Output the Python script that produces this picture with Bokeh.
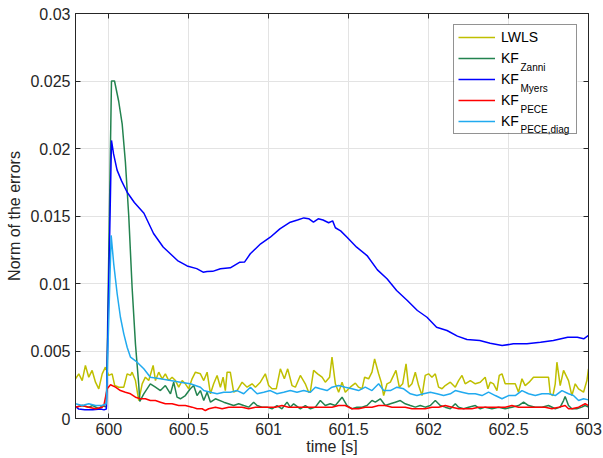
from bokeh.plotting import figure
from bokeh.models import Range1d, LinearAxis, FixedTicker, Legend, LegendItem, Label, BoxAnnotation
from bokeh.embed import file_html
from bokeh.resources import INLINE

FONT = "Liberation Sans"
INK = "#262626"

# ---------------- data ----------------
x_ticks = [600, 600.5, 601, 601.5, 602, 602.5, 603]
x_tick_labels = ["600", "600.5", "601", "601.5", "602", "602.5", "603"]
y_ticks = [0, 0.005, 0.01, 0.015, 0.02, 0.025, 0.03]
y_tick_labels = ["0", "0.005", "0.01", "0.015", "0.02", "0.025", "0.03"]

series_names = ["LWLS", "KF", "KF", "KF", "KF"]
series_subs = ["", "Zanni", "Myers", "PECE", "PECE,diag"]
series_colors = ["#bfbf00", "#23834f", "#0000ff", "#ff0000", "#21aaef"]

t_lwls = [599.792, 599.8125, 599.834, 599.854, 599.875, 599.896, 599.917, 599.9375, 599.959, 599.979,
          600.0, 600.021, 600.0375, 600.0625, 600.094, 600.115, 600.136, 600.146, 600.167, 600.1875,
          600.209, 600.229, 600.25, 600.2775, 600.292, 600.3125, 600.334, 600.354, 600.375, 600.396,
          600.417, 600.4375, 600.459, 600.479, 600.5, 600.521, 600.542, 600.573, 600.594, 600.615,
          600.636, 600.656, 600.6775, 600.698, 600.715, 600.729, 600.74, 600.76, 600.781, 600.8025,
          600.834, 600.865, 600.896, 600.917, 600.948, 600.979, 601.0, 601.021, 601.0475, 601.073,
          601.098, 601.119, 601.146, 601.167, 601.198, 601.229, 601.25, 601.26, 601.281, 601.306,
          601.334, 601.354, 601.381, 601.396, 601.417, 601.4375, 601.459, 601.479, 601.51, 601.542,
          601.5625, 601.584, 601.6, 601.625, 601.646, 601.6625, 601.6875, 601.704, 601.719, 601.74,
          601.761, 601.796, 601.817, 601.838, 601.859, 601.875, 601.896, 601.917, 601.9375, 601.959,
          601.979, 602.0, 602.021, 602.042, 602.0625, 602.084, 602.104, 602.136, 602.167, 602.1875,
          602.209, 602.229, 602.261, 602.292, 602.323, 602.354, 602.371, 602.386, 602.406, 602.4275,
          602.442, 602.459, 602.479, 602.5, 602.521, 602.542, 602.5625, 602.584, 602.604, 602.629,
          602.656, 602.6875, 602.719, 602.75, 602.761, 602.7775, 602.792, 602.8025, 602.823, 602.844,
          602.875, 602.896, 602.917, 602.9375, 602.969, 602.99, 603.0]
e_lwls = [0.00294, 0.00331, 0.00281, 0.00393, 0.00306, 0.00356, 0.00269, 0.0022, 0.00331, 0.0038,
          0.00319, 0.00331, 0.00244, 0.00232, 0.00232, 0.00331, 0.00319, 0.00343, 0.00281, 0.00133,
          0.00257, 0.00306, 0.00281, 0.00393, 0.00281, 0.00343, 0.00294, 0.00331, 0.00281, 0.00306,
          0.00281, 0.00232, 0.00281, 0.00257, 0.0022, 0.00294, 0.00343, 0.00331, 0.00281, 0.00343,
          0.00183, 0.00257, 0.00319, 0.00232, 0.00306, 0.00207, 0.00343, 0.00343, 0.00195, 0.00207,
          0.00269, 0.00232, 0.00257, 0.00232, 0.00269, 0.00331, 0.00244, 0.0022, 0.0022, 0.00368,
          0.00294, 0.00368, 0.00244, 0.00232, 0.00319, 0.00257, 0.00195, 0.00195, 0.00356, 0.00331,
          0.00306, 0.00269, 0.00306, 0.00454, 0.00257, 0.00195, 0.00269, 0.00195, 0.00232, 0.00262,
          0.00232, 0.0022, 0.00306, 0.00294, 0.00343, 0.00442, 0.00331, 0.00269, 0.0017, 0.00257,
          0.00269, 0.00356, 0.00232, 0.00257, 0.00405, 0.00232, 0.00257, 0.00343, 0.00244, 0.0017,
          0.00319, 0.00331, 0.00306, 0.00331, 0.00232, 0.0022, 0.00244, 0.00269, 0.00232, 0.00281,
          0.00319, 0.00257, 0.00281, 0.00257, 0.00269, 0.00306, 0.0022, 0.00269, 0.00257, 0.00207,
          0.00319, 0.00331, 0.00257, 0.00257, 0.00257, 0.00257, 0.00195, 0.00294, 0.00244, 0.00269,
          0.00306, 0.00306, 0.00306, 0.00306, 0.00183, 0.0017, 0.00257, 0.00417, 0.00244, 0.00356,
          0.00281, 0.0017, 0.00257, 0.0022, 0.00195, 0.00281, 0.00368]

t_zanni = [599.792, 599.834, 599.875, 599.9, 599.938, 599.959, 599.985, 600.017, 600.036, 600.062,
           600.084, 600.104, 600.125, 600.146, 600.167, 600.1875, 600.194, 600.219, 600.26, 600.292,
           600.323, 600.354, 600.386, 600.406, 600.427, 600.448, 600.479, 600.51, 600.531, 600.552,
           600.573, 600.594, 600.615, 600.636, 600.667, 600.719, 600.781, 600.8125, 600.844, 600.875,
           600.906, 600.9275, 600.958, 600.99, 601.021, 601.052, 601.083, 601.115, 601.135, 601.156,
           601.198, 601.229, 601.261, 601.292, 601.323, 601.354, 601.385, 601.417, 601.459, 601.49,
           601.521, 601.552, 601.584, 601.615, 601.646, 601.667, 601.698, 601.729, 601.761, 601.792,
           601.823, 601.854, 601.886, 601.917, 601.948, 601.979, 602.011, 602.042, 602.073, 602.104,
           602.136, 602.167, 602.1875, 602.219, 602.25, 602.292, 602.323, 602.354, 602.396, 602.438,
           602.479, 602.521, 602.5625, 602.594, 602.625, 602.667, 602.709, 602.75, 602.792, 602.823,
           602.844, 602.854, 602.875, 602.896, 602.927, 602.958, 602.979, 603.0]
e_zanni = [0.00084, 0.00096, 0.00084, 0.00096, 0.00072, 0.00096, 0.00084, 0.025, 0.025, 0.0235,
           0.0218, 0.019, 0.015, 0.0097, 0.0055, 0.0025, 0.00126, 0.00183, 0.00257, 0.00232,
           0.00207, 0.00244, 0.00183, 0.00269, 0.00158, 0.00146, 0.0017, 0.0022, 0.00244, 0.0017,
           0.00207, 0.00133, 0.00195, 0.00121, 0.00146, 0.00121, 0.00096, 0.00109, 0.00096, 0.00084,
           0.00121, 0.00096, 0.00084, 0.00084, 0.00072, 0.00096, 0.00072, 0.00121, 0.00084, 0.00109,
           0.00072, 0.00096, 0.00072, 0.00084, 0.00133, 0.00096, 0.00109, 0.00096, 0.00158, 0.00096,
           0.00072, 0.00084, 0.00084, 0.00096, 0.00133, 0.00121, 0.00146, 0.00096, 0.00109, 0.00121,
           0.00133, 0.00109, 0.00096, 0.00084, 0.00096, 0.00084, 0.00096, 0.00133, 0.00096, 0.00084,
           0.00072, 0.00109, 0.00084, 0.00072, 0.00084, 0.00096, 0.00072, 0.00084, 0.00072, 0.00084,
           0.00072, 0.00084, 0.00096, 0.00121, 0.00096, 0.00084, 0.00084, 0.00096, 0.00072, 0.00084,
           0.00133, 0.00163, 0.00096, 0.00072, 0.00072, 0.00084, 0.00096, 0.00084]

t_myers = [599.792, 599.8125, 599.85, 599.9, 599.95, 599.97, 599.985, 600.017, 600.03, 600.052,
           600.08, 600.115, 600.16, 600.22, 600.28, 600.34, 600.385, 600.43, 600.49, 600.55,
           600.59, 600.615, 600.65, 600.698, 600.76, 600.82, 600.85, 600.885, 600.95, 601.01,
           601.07, 601.135, 601.18, 601.22, 601.25, 601.28, 601.31, 601.34, 601.375, 601.4,
           601.417, 601.45, 601.49, 601.55, 601.615, 601.68, 601.74, 601.8, 601.867, 601.93,
           601.99, 602.05, 602.115, 602.18, 602.24, 602.32, 602.385, 602.46, 602.53, 602.615,
           602.7, 602.78, 602.87, 602.93, 602.97, 603.0]
e_myers = [0.0009, 0.0007, 0.00064, 0.00064, 0.0007, 0.00064, 0.0007, 0.0206, 0.0196, 0.0184,
           0.0176, 0.01676, 0.016, 0.0152, 0.0137, 0.0127, 0.0122, 0.0117, 0.0113, 0.0111,
           0.01084, 0.01089, 0.0109, 0.01109, 0.01116, 0.01158, 0.0116, 0.0122, 0.01294, 0.01343,
           0.01405, 0.01454, 0.0147, 0.01486, 0.0148, 0.01454, 0.01479, 0.0147, 0.0145, 0.01464,
           0.01413, 0.0139, 0.01343, 0.01269, 0.01207, 0.01101, 0.01035, 0.00948, 0.00874, 0.008,
           0.0075, 0.00676, 0.00652, 0.0061, 0.00585, 0.00578, 0.00558, 0.0054, 0.00553, 0.00553,
           0.00565, 0.00578, 0.00602, 0.00602, 0.0059, 0.00615]

t_pece = [599.792, 599.834, 599.875, 599.917, 599.959, 599.969, 599.99, 600.011, 600.042, 600.073,
          600.104, 600.136, 600.167, 600.198, 600.229, 600.26, 600.292, 600.323, 600.354, 600.396,
          600.4375, 600.479, 600.521, 600.5525, 600.584, 600.604, 600.625, 600.667, 600.709, 600.75,
          600.792, 600.834, 600.875, 600.917, 600.958, 601.0, 601.042, 601.083, 601.125, 601.167,
          601.208, 601.25, 601.292, 601.354, 601.396, 601.4375, 601.479, 601.521, 601.5625, 601.604,
          601.646, 601.6875, 601.729, 601.771, 601.813, 601.854, 601.896, 601.938, 601.979, 602.021,
          602.063, 602.104, 602.146, 602.188, 602.229, 602.271, 602.313, 602.354, 602.396, 602.438,
          602.479, 602.521, 602.5625, 602.604, 602.646, 602.688, 602.729, 602.771, 602.813, 602.854,
          602.875, 602.896, 602.938, 602.979, 603.0]
e_pece = [0.00084, 0.00096, 0.00084, 0.00072, 0.00084, 0.00096, 0.0022, 0.0025, 0.00232, 0.00207,
          0.00195, 0.00183, 0.00158, 0.00146, 0.00146, 0.00133, 0.00133, 0.00121, 0.00109, 0.00109,
          0.00096, 0.00096, 0.00084, 0.00072, 0.00072, 0.00059, 0.00072, 0.00084, 0.00072, 0.00084,
          0.00084, 0.00084, 0.00072, 0.00084, 0.00084, 0.00084, 0.00084, 0.00096, 0.00084, 0.00084,
          0.00084, 0.00084, 0.00084, 0.00084, 0.00084, 0.00096, 0.00096, 0.00072, 0.00072, 0.00084,
          0.00084, 0.00096, 0.00096, 0.00084, 0.00084, 0.00084, 0.00072, 0.00072, 0.00072, 0.00084,
          0.00084, 0.00096, 0.00084, 0.00072, 0.00072, 0.00072, 0.00084, 0.00084, 0.00084, 0.00084,
          0.00084, 0.00096, 0.00084, 0.00084, 0.00084, 0.00084, 0.00084, 0.00072, 0.00084, 0.00096,
          0.00072, 0.00072, 0.00084, 0.00109, 0.00096]

t_diag = [599.792, 599.834, 599.875, 599.917, 599.959, 599.985, 600.015, 600.031, 600.0525, 600.073,
          600.094, 600.115, 600.136, 600.1775, 600.219, 600.26, 600.323, 600.386, 600.448, 600.51,
          600.573, 600.594, 600.636, 600.6775, 600.719, 600.76, 600.8025, 600.844, 600.886, 600.9275,
          600.969, 601.01, 601.052, 601.094, 601.135, 601.177, 601.219, 601.261, 601.292, 601.323,
          601.365, 601.396, 601.4375, 601.479, 601.521, 601.5625, 601.604, 601.646, 601.6875, 601.719,
          601.761, 601.802, 601.844, 601.886, 601.927, 601.969, 602.011, 602.052, 602.094, 602.136,
          602.167, 602.209, 602.25, 602.292, 602.334, 602.375, 602.417, 602.459, 602.5, 602.542,
          602.584, 602.625, 602.667, 602.709, 602.75, 602.792, 602.834, 602.875, 602.906, 602.938,
          602.969, 603.0]
e_diag = [0.00109, 0.00096, 0.00109, 0.00096, 0.00096, 0.00109, 0.01356, 0.01146, 0.00924, 0.0075,
          0.00627, 0.00528, 0.00454, 0.00417, 0.00368, 0.00306, 0.00294, 0.00281, 0.00269, 0.00257,
          0.00232, 0.00207, 0.00195, 0.00183, 0.00195, 0.00195, 0.00207, 0.00183, 0.00232, 0.00183,
          0.00195, 0.00207, 0.00183, 0.00195, 0.00207, 0.00195, 0.00207, 0.00195, 0.00232, 0.0022,
          0.00207, 0.00232, 0.00244, 0.00232, 0.0022, 0.00207, 0.00232, 0.00207, 0.00257, 0.00207,
          0.00207, 0.00232, 0.0022, 0.00183, 0.0017, 0.00183, 0.00195, 0.00183, 0.0017, 0.00183,
          0.00207, 0.00195, 0.00183, 0.00183, 0.0017, 0.00195, 0.0017, 0.00146, 0.0017, 0.0017,
          0.00207, 0.00183, 0.0017, 0.00183, 0.00183, 0.0017, 0.00207, 0.00183, 0.0017, 0.00133,
          0.00146, 0.00138]

series_t = [t_lwls, t_zanni, t_myers, t_pece, t_diag]
series_e = [e_lwls, e_zanni, e_myers, e_pece, e_diag]

# ---------------- figure ----------------
X0, X1, Y0, Y1 = 599.792, 603.0, 0.0, 0.03
FL, FR, FT, FB = 75, 588, 13, 418          # frame edges in page pixels

p = figure(width=603, height=458, output_backend="svg", toolbar_location=None,
           x_range=Range1d(X0, X1), y_range=Range1d(Y0, Y1),
           min_border_left=FL, min_border_right=603 - FR, min_border_top=FT,
           min_border_bottom=458 - FB,
           background_fill_color="white", border_fill_color="white")
p.outline_line_color = INK

p.add_layout(LinearAxis(), "right")
p.add_layout(LinearAxis(), "above")

for ax in p.xaxis:
    ax.ticker = FixedTicker(ticks=x_ticks)
for ax in p.yaxis:
    ax.ticker = FixedTicker(ticks=y_ticks)
p.below[0].major_label_overrides = dict(zip(x_ticks, x_tick_labels))
p.left[0].major_label_overrides = dict(zip(y_ticks, y_tick_labels))
# mirrored (MATLAB "box on") axes: ticks only, no labels
p.above[0].major_label_overrides = {t: "" for t in x_ticks}
p.right[0].major_label_overrides = {t: "" for t in y_ticks}

for ax in list(p.xaxis) + list(p.yaxis):
    ax.axis_line_color = INK
    ax.major_tick_line_color = INK
    ax.major_tick_in = 5
    ax.major_tick_out = 0
    ax.minor_tick_line_color = None
    ax.major_label_text_font = FONT
    ax.major_label_text_font_size = "16px"
    ax.major_label_text_color = INK
    ax.axis_label_text_font = FONT
    ax.axis_label_text_font_size = "16px"
    ax.axis_label_text_font_style = "normal"
    ax.axis_label_text_color = INK

p.below[0].axis_label = "time [s]"
p.below[0].major_label_standoff = 4
p.below[0].axis_label_standoff = 0
p.left[0].axis_label = "Norm of the errors"
p.left[0].major_label_standoff = 5
p.left[0].axis_label_standoff = 4
for ax in (p.right[0], p.above[0]):
    ax.major_label_standoff = 0

p.xgrid.ticker = FixedTicker(ticks=x_ticks)
p.ygrid.ticker = FixedTicker(ticks=y_ticks)
p.xgrid.grid_line_color = "#e3e3e3"
p.ygrid.grid_line_color = "#e3e3e3"

items = []
for name, t, e, c in zip(series_names, series_t, series_e, series_colors):
    r = p.line(t, e, line_color=c, line_width=1.5)
    items.append(LegendItem(label=name, renderers=[r]))

# helpers: page pixel -> data units (for legend decorations only)
def px_to_x(px):
    return X0 + (px - FL) / (FR - FL) * (X1 - X0)

def py_to_y(py):
    return Y0 + (FB - py) / (FB - FT) * (Y1 - Y0)

# white backing of the legend box (legend itself is transparent so the subscripts show)
p.add_layout(BoxAnnotation(left=px_to_x(454), right=px_to_x(577),
                           top=py_to_y(24), bottom=py_to_y(132),
                           fill_color="white", fill_alpha=1.0, line_color=None,
                           level="annotation"))

legend = Legend(items=items, location="top_right", margin=11, padding=4, spacing=5,
                glyph_width=37, glyph_height=16, label_height=16, label_width=71,
                label_standoff=6, label_text_font=FONT, label_text_font_size="14px",
                label_text_color="#000000", label_text_baseline="alphabetic",
                border_line_color=INK, border_line_width=1,
                background_fill_color="white", background_fill_alpha=0.0)
p.add_layout(legend)

sub_px = 520
sub_py = [66.5, 87.5, 108.5, 128.5]
for k, sub in enumerate(series_subs[1:]):
    p.add_layout(Label(x=px_to_x(sub_px), y=py_to_y(sub_py[k]), text=sub,
                       text_font=FONT, text_font_size="10px", text_color="#000000",
                       text_baseline="alphabetic", text_align="left", level="overlay"))

open("out.html", "w").write(file_html(p, INLINE))
